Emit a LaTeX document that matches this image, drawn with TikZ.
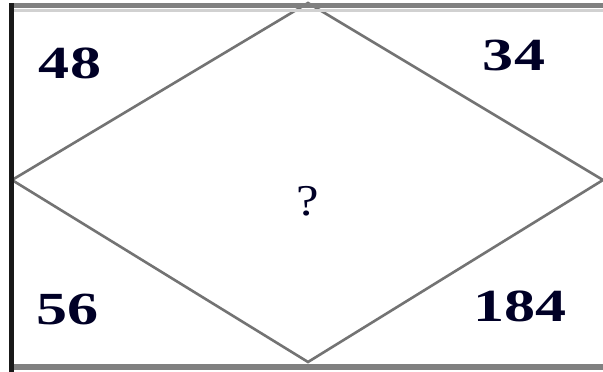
\documentclass[tikz,border=0pt]{standalone}
\usepackage{fontspec}
\setmainfont{Liberation Serif}
\begin{document}
\begin{tikzpicture}[x=1pt,y=-1pt,
  num/.style={font=\fontsize{46}{46}\selectfont\bfseries, xscale=1.35, inner sep=0pt, text=black!85!blue},
  qm/.style={font=\fontsize{44}{44}\selectfont, xscale=1.15, inner sep=0pt, text=black!85!blue},
  frameline/.style={draw=black!50, line width=5.5pt},
  diamline/.style={draw=black!55, line width=2.6pt}]
\useasboundingbox (0,0) rectangle (603,372);
\fill[white] (0,0) rectangle (603,372);
\coordinate (T) at (308,3);
\coordinate (L) at (12,180);
\coordinate (R) at (603,180);
\coordinate (B) at (308,362);
\draw[diamline] (L) -- (T) -- (R) -- (B) -- cycle;
\draw[frameline] (11,5.5) -- (603,5.5);
\draw[draw=black!18, line width=3pt] (13,10) -- (603,10);
\draw[frameline] (11,367) -- (603,367);
\draw[draw=black!90, line width=4.5pt] (11.5,3) -- (11.5,372);
\node[num] (n48) at (70,63) {48};
\node[num] (n34) at (514,55) {34};
\node[num] (n56) at (68,309) {56};
\node[num] (n184) at (520,306) {184};
\node[qm] (q) at (308,201) {?};
\end{tikzpicture}
\end{document}
